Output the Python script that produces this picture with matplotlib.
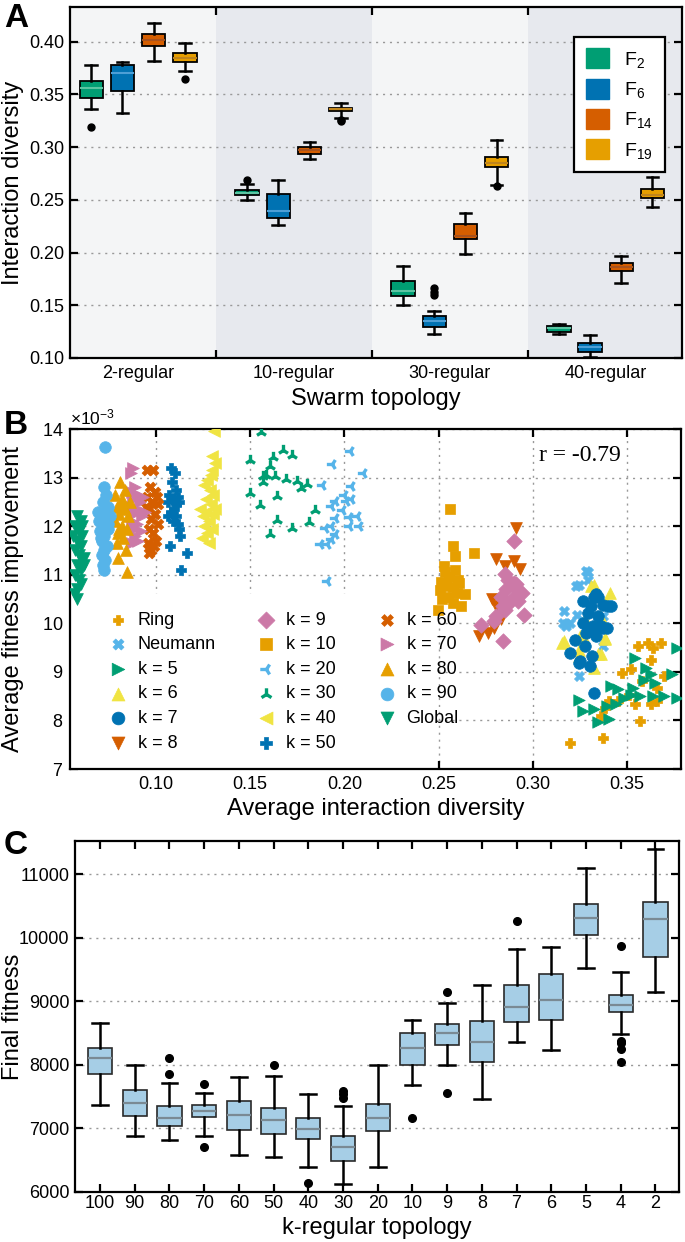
import numpy as np
import matplotlib.pyplot as plt
from matplotlib.patches import Patch, Rectangle

plt.rcParams['font.family'] = ['Liberation Sans', 'DejaVu Sans']
plt.rcParams['mathtext.fontset'] = 'custom'
plt.rcParams['mathtext.rm'] = 'Liberation Sans'
plt.rcParams['mathtext.it'] = 'Liberation Sans:italic'

# ---------------- panel A data ----------------
a_groups = ['2-regular', '10-regular', '30-regular', '40-regular']
a_funcs = ['F$_{\\mathregular{2}}$', 'F$_{\\mathregular{6}}$', 'F$_{\\mathregular{14}}$', 'F$_{\\mathregular{19}}$']
a_med = [[0.356, 0.257, 0.164, 0.128], [0.370, 0.239, 0.135, 0.110],
         [0.402, 0.297, 0.216, 0.186], [0.385, 0.336, 0.285, 0.255]]
a_q1 = [[0.347, 0.255, 0.159, 0.125], [0.353, 0.233, 0.129, 0.106],
        [0.396, 0.294, 0.213, 0.183], [0.381, 0.334, 0.281, 0.252]]
a_q3 = [[0.363, 0.259, 0.173, 0.130], [0.378, 0.256, 0.140, 0.114],
        [0.407, 0.300, 0.227, 0.190], [0.389, 0.337, 0.291, 0.260]]
a_lo = [[0.336, 0.250, 0.150, 0.123], [0.332, 0.226, 0.123, 0.101],
        [0.382, 0.289, 0.199, 0.171], [0.372, 0.328, 0.264, 0.243]]
a_hi = [[0.378, 0.265, 0.187, 0.132], [0.381, 0.269, 0.145, 0.122],
        [0.418, 0.305, 0.238, 0.197], [0.399, 0.342, 0.307, 0.272]]
a_fliers = [[[0.319], [0.269], [], []],
            [[], [], [0.160, 0.163, 0.166], []],
            [[], [], [], []],
            [[0.365], [0.325, 0.326], [0.263], []]]
a_colors = ['#009E73', '#0072B2', '#D55E00', '#E69F00']
a_medcolors = ['#5cc4a2', '#4d9fd6', '#a9521c', '#c0851c']

# ---------------- panel B data (y in units of 1e-3) ----------------
b_labels = ['Ring', 'Neumann', 'k = 5', 'k = 6', 'k = 7', 'k = 8', 'k = 9', 'k = 10',
            'k = 20', 'k = 30', 'k = 40', 'k = 50', 'k = 60', 'k = 70', 'k = 80',
            'k = 90', 'Global']

ring_x = [0.3198, 0.3371, 0.3567, 0.3360, 0.3382, 0.3406, 0.3475, 0.3521, 0.3556, 0.3613,
          0.3636, 0.3682, 0.3625, 0.3579, 0.3659, 0.3694, 0.3625, 0.3659, 0.3452, 0.3509, 0.3544]
ring_y = [7.54, 7.64, 7.99, 8.09, 8.26, 8.40, 8.98, 9.06, 9.53, 9.60,
          9.49, 9.60, 9.25, 8.81, 8.67, 8.91, 8.33, 8.40, 8.40, 8.53, 8.33]
neu_x = [0.3163, 0.3244, 0.3175, 0.3198, 0.3233, 0.3244, 0.3371, 0.3290, 0.3290,
         0.3281, 0.3231, 0.3178, 0.3160, 0.3370]
neu_y = [10.25, 10.79, 9.94, 10.00, 10.18, 8.91, 9.53, 10.90, 11.05,
         11.08, 10.77, 9.98, 10.01, 10.15]
k5_x = [0.3244, 0.3267, 0.3325, 0.3348, 0.3406, 0.3417, 0.3452, 0.3440, 0.3486, 0.3532,
        0.3544, 0.3601, 0.3625, 0.3648, 0.3636, 0.3694, 0.3740, 0.3763, 0.3763, 0.3567,
        0.3521, 0.3394, 0.3590]
k5_y = [8.43, 8.19, 8.23, 7.97, 8.02, 8.71, 8.64, 8.33, 8.47, 8.67,
        9.29, 9.08, 8.95, 8.77, 8.50, 8.50, 8.95, 9.49, 8.47, 8.50,
        8.53, 8.29, 8.84]
k6_x = [0.3325, 0.3360, 0.3382, 0.3163, 0.3244, 0.3267, 0.3360, 0.3325, 0.3244, 0.3410,
        0.3302, 0.3279, 0.3311, 0.3390, 0.3355, 0.3152, 0.3250, 0.3382, 0.3346]
k6_y = [10.79, 10.11, 9.70, 9.63, 9.46, 9.73, 9.36, 9.08, 9.32, 10.62,
        9.87, 10.08, 10.77, 10.43, 10.15, 9.60, 9.74, 9.67, 9.36]
k7_x = [0.3267, 0.3325, 0.3371, 0.3417, 0.3290, 0.3348, 0.3394, 0.3313, 0.3267, 0.3221,
        0.3198, 0.3279, 0.3313, 0.3244, 0.3302, 0.3325, 0.3348, 0.3360, 0.3336, 0.3337,
        0.3400, 0.3311, 0.3320, 0.3373, 0.3284, 0.3250]
k7_y = [10.45, 10.55, 10.38, 10.35, 10.21, 10.14, 9.90, 9.87, 10.00, 9.66,
        9.39, 9.53, 9.32, 9.18, 9.12, 8.57, 10.55, 9.94, 9.73, 10.60,
        10.36, 10.36, 9.94, 9.91, 9.81, 9.22]
k8_x = [0.2910, 0.2806, 0.2898, 0.2852, 0.2933, 0.2714, 0.2760, 0.2794, 0.2806, 0.2829, 0.2783]
k8_y = [11.97, 11.32, 11.29, 11.18, 11.12, 9.73, 9.80, 9.90, 10.35, 10.08, 10.49]
k9_x = [0.2898, 0.2850, 0.2829, 0.2921, 0.2875, 0.2955, 0.2725, 0.2794, 0.2841, 0.2944,
        0.2898, 0.2852, 0.2806, 0.2870, 0.2910, 0.2860, 0.2890, 0.2840, 0.2920]
k9_y = [11.70, 11.01, 10.55, 10.69, 10.42, 10.18, 9.97, 10.04, 9.63, 10.62,
        10.83, 10.28, 10.14, 10.90, 10.80, 10.70, 10.50, 10.35, 10.45]
k10_x = [0.2559, 0.2575, 0.2690, 0.2529, 0.2587, 0.2506, 0.2598, 0.2552, 0.2621, 0.2494,
         0.2575, 0.2540, 0.2610, 0.2517, 0.2535, 0.2555, 0.2605, 0.2585, 0.2515, 0.2640, 0.2575]
k10_y = [12.35, 11.59, 11.44, 11.18, 11.39, 10.69, 10.62, 10.55, 10.35, 10.27,
         10.42, 10.76, 10.83, 10.49, 11.05, 10.95, 10.90, 11.10, 10.85, 10.60, 10.75]
k20_x = [0.2028, 0.1936, 0.2100, 0.1883, 0.2033, 0.1999, 0.1952, 0.2010, 0.1929, 0.1987,
         0.2022, 0.2068, 0.1952, 0.1895, 0.1929, 0.2022, 0.2079, 0.1952, 0.1872, 0.1906,
         0.1929, 0.2033, 0.1906]
k20_y = [13.54, 13.28, 13.10, 12.85, 12.83, 12.65, 12.51, 12.51, 12.41, 12.34,
         12.19, 12.20, 12.17, 11.97, 12.00, 12.00, 12.00, 11.83, 11.63, 11.63,
         11.73, 12.55, 10.88]
k30_x = [0.1560, 0.1500, 0.1584, 0.1607, 0.1620, 0.1676, 0.1720, 0.1630, 0.1690, 0.1643,
         0.1500, 0.1550, 0.1750, 0.1768, 0.1800, 0.1845, 0.1641, 0.1720, 0.1810, 0.1607,
         0.1567, 0.1570]
k30_y = [13.93, 13.37, 13.06, 13.23, 13.43, 13.57, 13.47, 13.03, 12.97, 12.62,
         12.68, 12.43, 12.92, 12.79, 12.86, 12.34, 12.13, 11.97, 12.09, 11.83,
         13.03, 12.90]
k40_x = [0.1310, 0.1300, 0.1315, 0.1300, 0.1290, 0.1270, 0.1255, 0.1285, 0.1305, 0.1265,
         0.1290, 0.1235, 0.1265, 0.1305, 0.1250, 0.1280, 0.1255, 0.1295, 0.1270, 0.1245,
         0.1280, 0.1315]
k40_y = [13.95, 13.45, 13.30, 13.15, 13.05, 12.95, 12.85, 12.75, 12.65, 12.55,
         12.45, 12.35, 12.30, 12.25, 12.20, 12.10, 12.00, 11.95, 11.85, 11.75,
         11.65, 12.35]
k50_x = [0.1080, 0.1100, 0.1085, 0.1105, 0.1070, 0.1115, 0.1090, 0.1125, 0.1065, 0.1095,
         0.1080, 0.1105, 0.1090, 0.1115, 0.1125, 0.1130, 0.1075, 0.1165, 0.1135, 0.1105, 0.1065]
k50_y = [13.20, 13.10, 12.90, 12.75, 12.65, 12.60, 12.55, 12.50, 12.50, 12.35,
         12.30, 12.20, 12.10, 12.05, 11.95, 11.80, 11.60, 11.45, 11.10, 12.45, 12.20]
k60_x = [0.0955, 0.0985, 0.0970, 0.0995, 0.0955, 0.0980, 0.1010, 0.0965, 0.0995, 0.0975,
         0.1010, 0.0965, 0.0985, 0.0960, 0.0990, 0.0975, 0.0965, 0.1005, 0.0945, 0.1000]
k60_y = [13.15, 13.15, 12.80, 12.70, 12.60, 12.50, 12.45, 12.35, 12.25, 12.15,
         12.05, 11.95, 11.85, 11.65, 11.60, 11.50, 11.45, 12.60, 12.40, 11.70]
k70_x = [0.0880, 0.0870, 0.0890, 0.0875, 0.0905, 0.0880, 0.0915, 0.0875, 0.0900, 0.0885,
         0.0925, 0.0875, 0.0900, 0.0885, 0.0920, 0.0890, 0.0905, 0.0875, 0.0940, 0.0930]
k70_y = [13.20, 13.10, 12.80, 12.70, 12.65, 12.55, 12.50, 12.40, 12.35, 12.25,
         12.20, 12.10, 12.05, 11.95, 11.90, 11.80, 11.70, 11.65, 12.30, 12.60]
k80_x = [0.0810, 0.0835, 0.0785, 0.0820, 0.0860, 0.0795, 0.0835, 0.0805, 0.0850, 0.0785,
         0.0820, 0.0845, 0.0800, 0.0825, 0.0795, 0.0840, 0.0800, 0.0845, 0.0815, 0.0805]
k80_y = [12.90, 12.75, 12.65, 12.55, 12.50, 12.40, 12.35, 12.25, 12.20, 12.10,
         12.00, 11.95, 11.85, 11.75, 11.65, 11.50, 11.35, 11.05, 12.45, 11.95]
k90_x = [0.0725, 0.0735, 0.0720, 0.0745, 0.0690, 0.0715, 0.0755, 0.0700, 0.0730, 0.0745,
         0.0705, 0.0725, 0.0715, 0.0740, 0.0725, 0.0715, 0.0730, 0.0720, 0.0725, 0.0745,
         0.0710, 0.0730]
k90_y = [12.80, 12.65, 12.50, 12.40, 12.30, 12.25, 12.20, 12.10, 12.00, 11.95,
         11.90, 11.80, 11.70, 11.60, 11.50, 11.40, 11.30, 11.20, 11.10, 12.05,
         11.75, 13.62]
glob_x = [0.058, 0.060, 0.057, 0.059, 0.061, 0.058, 0.060, 0.057, 0.059, 0.061,
          0.058, 0.060, 0.057, 0.059, 0.060, 0.058, 0.057, 0.058, 0.062, 0.061, 0.062, 0.056]
glob_y = [12.2, 12.1, 12.0, 11.9, 11.8, 11.7, 11.6, 11.5, 11.4, 11.3,
          11.2, 11.1, 11.0, 10.9, 10.8, 10.7, 10.6, 10.5, 11.35, 12.0, 11.2, 11.8]

b_xs = [ring_x, neu_x, k5_x, k6_x, k7_x, k8_x, k9_x, k10_x, k20_x, k30_x,
        k40_x, k50_x, k60_x, k70_x, k80_x, k90_x, glob_x]
b_ys = [ring_y, neu_y, k5_y, k6_y, k7_y, k8_y, k9_y, k10_y, k20_y, k30_y,
        k40_y, k50_y, k60_y, k70_y, k80_y, k90_y, glob_y]
r_value = -0.79

okabe = ['#E69F00', '#56B4E9', '#009E73', '#F0E442', '#0072B2', '#D55E00', '#CC79A7']
b_markers = ['P', 'X', '>', '^', 'o', 'v', 'D', 's', '3', '2', '<', 'P', 'X', '>', '^', 'o', 'v']
b_sizes = [42, 52, 68, 72, 70, 72, 62, 62, 66, 66, 72, 55, 60, 72, 72, 70, 72]

# ---------------- panel C data ----------------
c_labels = ['100', '90', '80', '70', '60', '50', '40', '30', '20', '10', '9', '8', '7', '6', '5', '4', '2']
c_med = [8110, 7398, 7162, 7277, 7209, 7126, 6990, 6707, 7162, 8257, 8503, 8356, 8906, 9026, 10309, 8948, 10293]
c_q1 = [7860, 7194, 7031, 7173, 6979, 6916, 6838, 6482, 6953, 8005, 8314, 8052, 8675, 8707, 10047, 8827, 9696]
c_q3 = [8267, 7597, 7356, 7366, 7435, 7325, 7168, 6880, 7382, 8503, 8639, 8691, 9251, 9424, 10534, 9105, 10560]
c_lo = [7361, 6880, 6822, 6880, 6581, 6550, 6387, 6126, 6387, 7686, 8005, 7455, 8356, 8236, 9524, 8487, 9141]
c_hi = [8660, 7995, 7717, 7550, 7801, 7827, 7545, 7356, 8005, 8707, 8969, 9262, 9827, 9859, 11099, 9461, 11390]
c_fliers = [[], [], [8100, 7859], [7691, 6712], [], [8005], [6141], [7581, 7545, 7482], [],
            [7168], [9147, 7550], [], [10257], [], [], [9864, 8382, 8346, 8251, 8047], []]

W, H = 685, 1242
fig = plt.figure(figsize=(W / 100, H / 100), dpi=100)


def style_axes(ax, pad=4):
    for s in ax.spines.values():
        s.set_linewidth(1.6)
    ax.tick_params(which='major', direction='in', length=6, width=1.6,
                   top=True, right=True, labelsize=13, pad=pad)


# ================= A =================
axA = fig.add_axes([69.5 / W, 1 - 358 / H, 612.5 / W, 351 / H])
bg = ['#f4f5f6', '#e7e9ee']
for g in range(4):
    axA.axvspan(g, g + 1, color=bg[g % 2], zorder=0, lw=0)
for f in range(4):
    stats = [dict(med=a_med[f][g], q1=a_q1[f][g], q3=a_q3[f][g], whislo=a_lo[f][g],
                  whishi=a_hi[f][g], fliers=a_fliers[f][g]) for g in range(4)]
    pos = [g + 0.2 + 0.2 * f for g in range(4)]
    axA.bxp(stats, positions=pos, widths=0.15, patch_artist=True, manage_ticks=False,
            boxprops=dict(facecolor=a_colors[f], edgecolor='k', linewidth=1.3),
            medianprops=dict(color=a_medcolors[f], linewidth=1.5),
            whiskerprops=dict(color='k', linewidth=1.8),
            capprops=dict(color='k', linewidth=1.8),
            flierprops=dict(marker='o', markerfacecolor='k', markeredgecolor='k', markersize=5),
            capwidths=0.075, zorder=3)
axA.set_xlim(0.06, 3.99)
axA.set_ylim(0.10, 0.433)
axA.set_yticks([0.10, 0.15, 0.20, 0.25, 0.30, 0.35, 0.40])
axA.set_yticklabels(['%.2f' % v for v in [0.10, 0.15, 0.20, 0.25, 0.30, 0.35, 0.40]])
axA.set_xticks([1, 2, 3])
axA.set_xticklabels([])
axA.set_xticks([0.5, 1.5, 2.5, 3.5], minor=True)
axA.set_xticklabels(a_groups, minor=True)
style_axes(axA)
axA.tick_params(which='minor', length=0, labelsize=13, pad=5)
axA.yaxis.grid(True, linestyle=(0, (1.5, 3.5)), color='#999999', lw=1.0)
axA.set_axisbelow(True)
axA.set_ylabel('Interaction diversity', fontsize=17)
axA.yaxis.set_label_coords(-0.075, 0.5)
axA.set_xlabel('Swarm topology', fontsize=17)
axA.xaxis.set_label_coords(0.5, -0.085)
handles = [Patch(facecolor=c, edgecolor=c) for c in a_colors]
legA = axA.legend(handles, a_funcs, loc='upper right', bbox_to_anchor=(0.988, 0.943),
                  fontsize=14, handlelength=1.2, handleheight=1.2, handletextpad=0.8,
                  borderpad=0.6, labelspacing=0.45, fancybox=False, framealpha=1)
legA.get_frame().set_edgecolor('k')
legA.get_frame().set_linewidth(1.6)

# ================= B =================
axB = fig.add_axes([70 / W, 1 - 769 / H, 611 / W, 340 / H])
for i in range(len(b_labels)):
    col = okabe[i % 7]
    m = b_markers[i]
    yy = np.array(b_ys[i]) * 1e-3
    if m in ('2', '3'):
        axB.scatter(b_xs[i], yy, marker=m, s=b_sizes[i], color=col, linewidths=2.4,
                    label=b_labels[i], zorder=3)
    else:
        axB.scatter(b_xs[i], yy, marker=m, s=b_sizes[i], facecolor=col, edgecolor=col,
                    linewidths=0.5, label=b_labels[i], zorder=3)
axB.add_patch(Rectangle((0, 0), 0.599, 0.515, transform=axB.transAxes,
                        facecolor='white', edgecolor='none', zorder=1))
axB.set_xlim(0.0544, 0.3786)
axB.set_ylim(7e-3, 14e-3)
axB.set_xticks([0.10, 0.15, 0.20, 0.25, 0.30, 0.35])
axB.set_xticklabels(['0.10', '0.15', '0.20', '0.25', '0.30', '0.35'])
axB.set_yticks(np.arange(7, 15) * 1e-3)
axB.ticklabel_format(axis='y', style='sci', scilimits=(-3, -3), useMathText=True)
axB.yaxis.get_offset_text().set_fontsize(12.5)
style_axes(axB, pad=5)
axB.grid(True, linestyle=(0, (1.5, 3.5)), color='#999999', lw=1.0)
axB.set_axisbelow(True)
axB.set_ylabel('Average fitness improvement', fontsize=17)
axB.yaxis.set_label_coords(-0.076, 0.5)
axB.set_xlabel('Average interaction diversity', fontsize=17)
axB.xaxis.set_label_coords(0.5, -0.085)
axB.text(0.3035, 13.45e-3, 'r = %.2f' % r_value, fontsize=17, va='center',
         family=['Liberation Serif', 'DejaVu Serif'])
axB.legend(ncol=3, loc='upper left', bbox_to_anchor=(0.043, 0.5), frameon=False,
           fontsize=13, handlelength=1.0, handletextpad=0.6, columnspacing=2.3,
           labelspacing=0.42, borderpad=0.2, scatterpoints=1, markerscale=1.1)

# ================= C =================
axC = fig.add_axes([75 / W, 1 - 1192 / H, 604 / W, 351 / H])
statsC = [dict(med=c_med[i], q1=c_q1[i], q3=c_q3[i], whislo=c_lo[i], whishi=c_hi[i],
               fliers=c_fliers[i]) for i in range(len(c_labels))]
posC = np.arange(1, len(c_labels) + 1)
axC.bxp(statsC, positions=posC, widths=0.7, patch_artist=True, manage_ticks=False,
        boxprops=dict(facecolor='#a6cee6', edgecolor='#2a2a2a', linewidth=1.2),
        medianprops=dict(color='#7a8a94', linewidth=1.6),
        whiskerprops=dict(color='k', linewidth=1.8),
        capprops=dict(color='k', linewidth=1.8),
        flierprops=dict(marker='o', markerfacecolor='k', markeredgecolor='k', markersize=5.5),
        capwidths=0.45, zorder=3)
axC.set_xlim(0.28, 17.68)
axC.set_ylim(6000, 11520)
axC.set_xticks(posC)
axC.set_xticklabels(c_labels)
axC.set_yticks([6000, 7000, 8000, 9000, 10000, 11000])
style_axes(axC)
axC.tick_params(axis='x', pad=2)
axC.yaxis.grid(True, linestyle=(0, (1.5, 3.5)), color='#999999', lw=1.0)
axC.set_axisbelow(True)
axC.set_ylabel('Final fitness', fontsize=17)
axC.yaxis.set_label_coords(-0.085, 0.5)
axC.set_xlabel('k-regular topology', fontsize=17)
axC.xaxis.set_label_coords(0.5, -0.072)

# panel letters
fig.text(4 / W, 1 - 3 / H, 'A', fontsize=24, fontweight='bold', va='top')
fig.text(4 / W, 1 - 410 / H, 'B', fontsize=24, fontweight='bold', va='top')
fig.text(4 / W, 1 - 830 / H, 'C', fontsize=24, fontweight='bold', va='top')

fig.savefig('out.png', dpi=100)
